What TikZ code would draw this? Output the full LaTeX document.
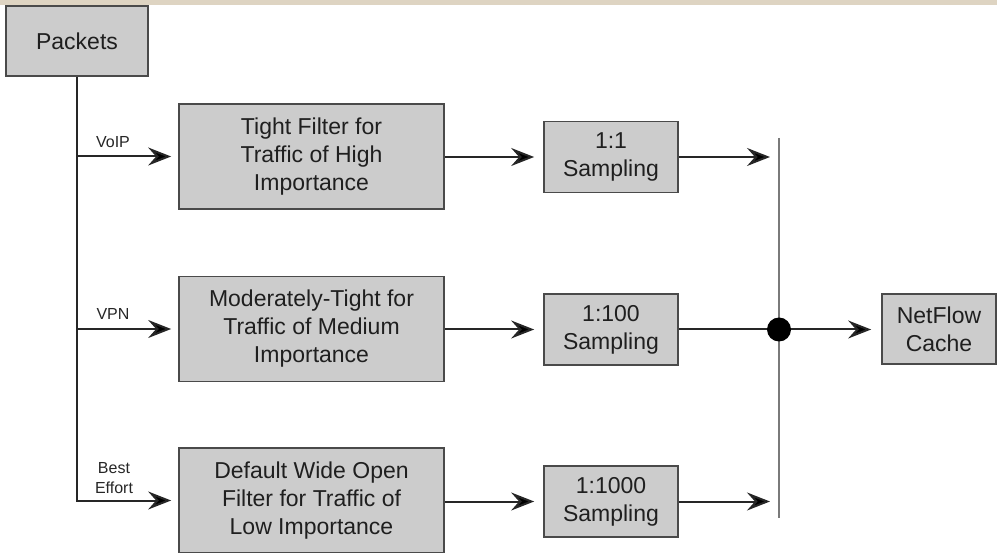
\documentclass[tikz,border=0pt]{standalone}
\usepackage{fontspec}
\setmainfont{Liberation Sans}
\usetikzlibrary{arrows.meta}

\definecolor{boxgray}{HTML}{CCCCCC}
\definecolor{edgegray}{HTML}{4A4A4A}
\definecolor{linegray}{HTML}{262626}
\definecolor{bargray}{HTML}{7A7A7A}
\definecolor{topband}{HTML}{DED4C2}

\tikzset{
  block/.style={draw=edgegray,line width=1.7pt,fill=boxgray,align=center,inner sep=0pt,
    font=\fontsize{23}{28}\selectfont,text=black!88},
  filterbox/.style={block,minimum width=265pt,minimum height=105pt},
  samplebox/.style={block,minimum width=134pt,minimum height=71pt},
  flow/.style={draw=linegray,line width=2pt},
  tag/.style={font=\fontsize{16}{20}\selectfont,align=center,text=black!85}
}

\begin{document}
\begin{tikzpicture}[>={Stealth[length=23pt,width=18pt,inset=8pt,fill=black]},x=1pt,y=-1pt]
\useasboundingbox (0,0) rectangle (997,553);
\fill[topband] (0,0) rectangle (997,5);

\node[block,minimum width=142pt,minimum height=70pt] (packets) at (77,41) {Packets};

\node[filterbox] (tight) at (311.5,156.5) {Tight Filter for\\Traffic of High\\Importance};
\node[filterbox] (medium) at (311.5,329) {Moderately-Tight for\\Traffic of Medium\\Importance};
\node[filterbox] (wide) at (311.5,500.5) {Default Wide Open\\Filter for Traffic of\\Low Importance};

\node[samplebox] (one) at (611,157) {1:1\\Sampling};
\node[samplebox] (hundred) at (611,329.5) {1:100\\Sampling};
\node[samplebox] (thousand) at (611,501.5) {1:1000\\Sampling};

\node[block,minimum width=114pt,minimum height=70pt] (cache) at (939,329) {NetFlow\\Cache};

\coordinate (bartop) at (779,138);
\coordinate (barbot) at (779,518);
\coordinate (join) at (779,329.5);

\node[tag] (voip) at (113,142) {VoIP};
\node[tag] (vpn) at (113,314) {VPN};
\node[tag] (best) at (114,478) {Best\\Effort};

\draw[flow,->,shorten >=7pt] (packets.south) |- (wide.west);
\draw[flow,->,shorten >=7pt] (packets.south |- tight.west) -- (tight.west);
\draw[flow,->,shorten >=7pt] (packets.south |- medium.west) -- (medium.west);

\draw[flow,->,shorten >=9pt] (tight.east |- one.west) -- (one.west);
\draw[flow,->,shorten >=9pt] (medium.east |- hundred.west) -- (hundred.west);
\draw[flow,->,shorten >=9pt] (wide.east |- thousand.west) -- (thousand.west);

\draw[draw=bargray,line width=2.6pt] (bartop) -- (barbot);
\draw[flow,->,shorten >=9pt] (one.east) -- (one.east -| bartop);
\draw[flow,->,shorten >=9pt] (thousand.east) -- (thousand.east -| bartop);
\draw[flow] (hundred.east) -- (join);
\draw[flow,->,shorten >=10pt] (join) -- (join -| cache.west);
\fill (join) circle [radius=12pt];
\end{tikzpicture}
\end{document}
